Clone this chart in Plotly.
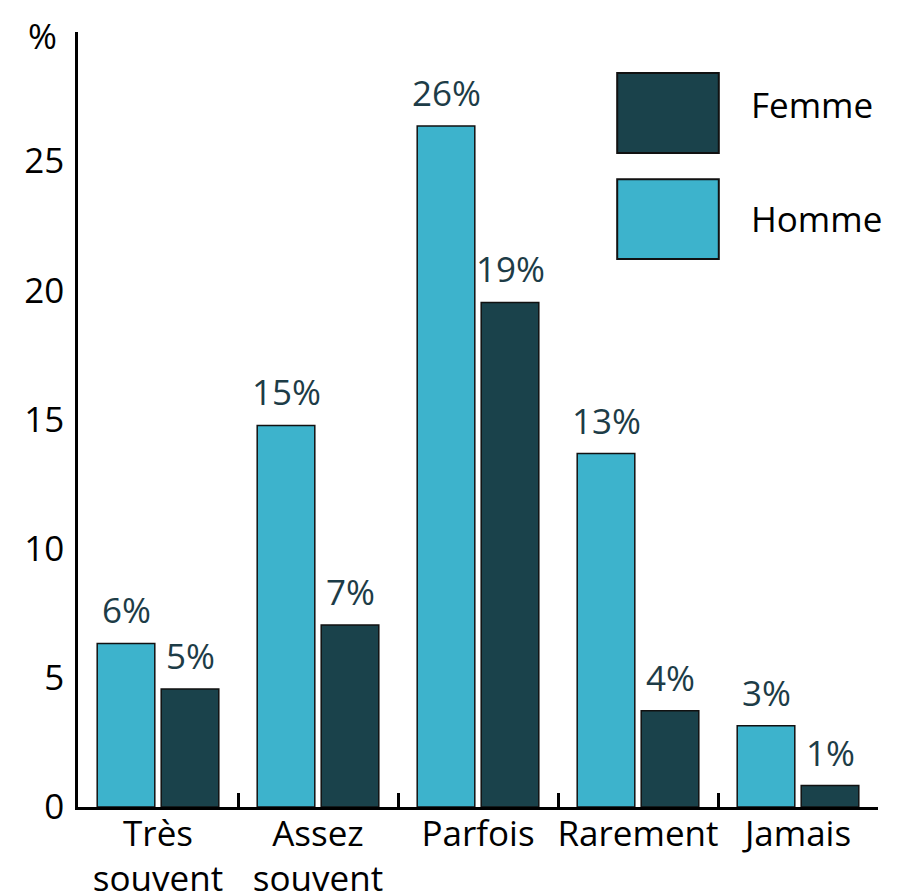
import plotly.graph_objects as go

categories = ["Très<br>souvent", "Assez<br>souvent", "Parfois", "Rarement", "Jamais"]
homme = [6.33, 14.77, 26.36, 13.68, 3.15]
femme = [4.57, 7.05, 19.53, 3.73, 0.83]
homme_labels = ["6%", "15%", "26%", "13%", "3%"]
femme_labels = ["5%", "7%", "19%", "4%", "1%"]
y_ticks = [0, 5, 10, 15, 20, 25]

C_HOMME = "#3db3cc"
C_FEMME = "#1a424b"
C_TEXT = "#1d3c47"
FONT = "Open Sans"
FS = 35

fig = go.Figure()
fig.add_trace(go.Bar(
    x=categories, y=homme, name="Homme",
    marker=dict(color=C_HOMME, line=dict(color="#111111", width=1.5)),
))
fig.add_trace(go.Bar(
    x=categories, y=femme, name="Femme",
    marker=dict(color=C_FEMME, line=dict(color="#111111", width=1.5)),
))

# value labels above bars
for i, (vh, vf, th, tf) in enumerate(zip(homme, femme, homme_labels, femme_labels)):
    for xv, yv, tx in ((i - 0.2, vh, th), (i + 0.2, vf, tf)):
        fig.add_annotation(x=xv, y=yv, xref="x", yref="y", text=tx, showarrow=False,
                           xanchor="center", yanchor="bottom", yshift=8,
                           font=dict(family=FONT, size=FS, color=C_TEXT))

# the page body adds an 8px offset, so the figure is sized to fit the window
fig.update_layout(
    width=890, height=886,
    margin=dict(l=70, r=20, t=24, b=87),
    paper_bgcolor="white", plot_bgcolor="white",
    barmode="group", bargap=0.2, bargroupgap=0.1,
    showlegend=False,
    font=dict(family=FONT, size=FS, color="black"),
)
fig.update_xaxes(
    showline=True, linecolor="black", linewidth=2.5,
    ticks="inside", tickson="boundaries", ticklen=14, tickwidth=2.5, tickcolor="black",
    tickfont=dict(family=FONT, size=FS, color="black"), tickangle=0,
    ticklabelstandoff=-6,
    showgrid=False, automargin=False,
)
fig.update_yaxes(
    range=[0, 30], tickvals=y_ticks, showline=True, linecolor="black", linewidth=2.5,
    ticks="", showgrid=False, zeroline=False,
    tickfont=dict(family=FONT, size=FS, color="black"),
    ticklabelstandoff=4, automargin=False,
)

# Legend drawn as swatches + text
legend_items = [("Femme", C_FEMME, 0.844, 0.947, 0.907), ("Homme", C_HOMME, 0.707, 0.810, 0.759)]
for name, col, y0, y1, yt in legend_items:
    fig.add_shape(type="rect", xref="paper", yref="paper", x0=0.674, x1=0.801, y0=y0, y1=y1,
                  fillcolor=col, line=dict(color="#111111", width=2))
    fig.add_annotation(xref="paper", yref="paper", x=0.839, y=yt, text=name, showarrow=False,
                       xanchor="left", yanchor="middle", font=dict(family=FONT, size=FS, color="black"))

fig.add_annotation(xref="paper", yref="paper", x=-0.045, y=0.996, text="%", showarrow=False,
                   xanchor="center", yanchor="middle", font=dict(family=FONT, size=FS, color="black"))

fig.write_html("out.html")
